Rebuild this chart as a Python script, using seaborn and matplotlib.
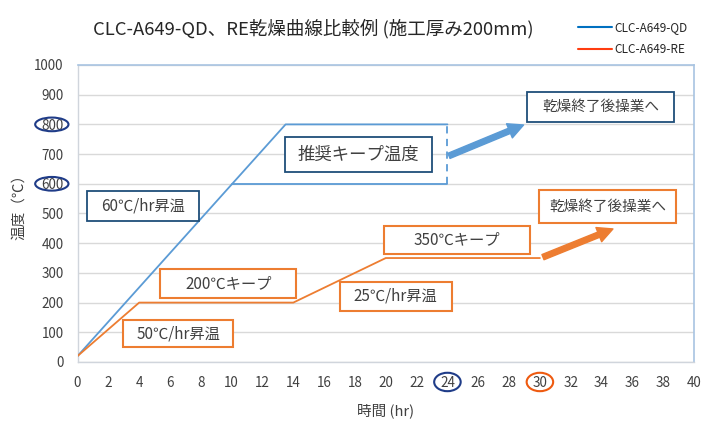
import numpy as np
import pandas as pd
import seaborn as sns
import matplotlib
matplotlib.use('Agg')
import matplotlib.pyplot as plt
from matplotlib.patches import Rectangle, Ellipse, FancyArrowPatch
from matplotlib.lines import Line2D

# ---------------- data ----------------
series_names = ['CLC-A649-QD', 'CLC-A649-RE']
qd_hours = [0, 13.5, 24]
qd_temps = [20, 800, 800]
re_hours = [0, 4, 14, 20, 30]
re_temps = [20, 200, 200, 350, 350]
keep600_hours = [10, 24]
keep600_temps = [600, 600]
keep_dash_hours = [24, 24]
keep_dash_temps = [600, 800]
x_ticks = list(range(0, 41, 2))
y_ticks = list(range(0, 1001, 100))
title = 'CLC-A649-QD、RE乾燥曲線比較例 (施工厚み200mm)'
x_label = '時間 (hr)'
y_label = '温度（℃）'
circled_y = [800, 600]
circled_x = [24, 30]
navy_notes = ['60℃/hr昇温', '推奨キープ温度', '乾燥終了後操業へ']
orange_notes = ['乾燥終了後操業へ', '350℃キープ', '25℃/hr昇温', '200℃キープ', '50℃/hr昇温']

# ---------------- style ----------------
sns.set_theme(style='white')
plt.rcParams['font.family'] = ['Noto Sans CJK JP', 'DejaVu Sans']

BLUE = '#5B9BD5'
ORANGE = '#ED7D31'
NAVY = '#1F4E79'
CIRCLE_NAVY = '#1F3C88'
CIRCLE_ORANGE = '#EE5A10'
TXT = '#404040'

fig = plt.figure(figsize=(7.1, 4.4), dpi=100)
ax = fig.add_axes([0.1092, 0.1773, 0.9775 - 0.1092, 0.8523 - 0.1773])

df = pd.DataFrame({
    'hours': qd_hours + re_hours,
    'temp': qd_temps + re_temps,
    'series': [series_names[0]] * len(qd_hours) + [series_names[1]] * len(re_hours),
})
sns.lineplot(data=df, x='hours', y='temp', hue='series',
             palette={series_names[0]: BLUE, series_names[1]: ORANGE},
             estimator=None, sort=False, linewidth=1.3, ax=ax, legend=False, zorder=3)
ax.plot(keep600_hours, keep600_temps, color=BLUE, lw=1.3, zorder=3)
ax.plot(keep_dash_hours, keep_dash_temps, color=BLUE, lw=1.3, ls=(0, (4, 3)), zorder=3)

ax.set_xlim(0, 40)
ax.set_ylim(0, 1000)
ax.set_xticks(x_ticks)
ax.set_yticks(y_ticks)
ax.set_xticklabels([str(t) for t in x_ticks])
ax.set_yticklabels([str(t) for t in y_ticks])
ax.tick_params(length=0, pad=10, labelsize=9.7, colors=TXT)
ax.yaxis.grid(True, color='#D9D9D9', lw=1, zorder=0)
ax.xaxis.grid(False)
ax.set_axisbelow(True)
for side in ['left', 'bottom']:
    ax.spines[side].set_color('#D0D5DC')
    ax.spines[side].set_linewidth(1)
for side in ['top', 'right']:
    ax.spines[side].set_color('#A8C4E2')
    ax.spines[side].set_linewidth(1.2)

ax.set_xlabel(x_label, fontsize=10.5, color=TXT)
ax.xaxis.set_label_coords(0.5, -0.14)
ax.set_ylabel(y_label, fontsize=10.5, color=TXT)
ax.yaxis.set_label_coords(-0.083, 0.535)

fig.suptitle(title, x=0.4415, y=0.934, va='center', fontsize=13.3, color='#262626')

# legend
handles = [Line2D([], [], color='#0070C0', lw=1.5), Line2D([], [], color='#FF3D10', lw=1.5)]
fig.legend(handles, series_names, loc='upper left', bbox_to_anchor=(578 / 710, 1 - 21 / 440),
           frameon=False, fontsize=8.5, handlelength=2.9, handletextpad=0.15,
           labelspacing=0.8, borderpad=0, borderaxespad=0, labelcolor='#262626')

# circled tick labels
ytr = ax.get_yaxis_transform()
for v in circled_y:
    ax.add_patch(Ellipse((-0.0417, v), 0.054, 46, transform=ytr, fill=False,
                         edgecolor=CIRCLE_NAVY, lw=1.5, clip_on=False))
xtr = ax.get_xaxis_transform()
for t, c in zip(circled_x, [CIRCLE_NAVY, CIRCLE_ORANGE]):
    ax.add_patch(Ellipse((t, -0.0673), 1.72, 0.062, transform=xtr, fill=False,
                         edgecolor=c, lw=1.5, clip_on=False))

# annotation boxes (x0, y0, w, h, fontsize)
navy_boxes = [(0.6, 475, 7.3, 101, 11), (13.45, 640, 9.55, 118, 12.5), (29.15, 808, 9.55, 101, 10.5)]
orange_boxes = [(29.95, 468, 8.9, 111, 10.5), (19.9, 364, 9.45, 94, 11), (17.0, 172, 7.3, 97, 11),
                (5.35, 215, 8.85, 98, 11), (2.95, 50, 7.15, 91, 11)]

def box(text, geom, color, lw):
    x0, y0, w, h, fs = geom
    ax.add_patch(Rectangle((x0, y0), w, h, facecolor='white', edgecolor=color, lw=lw, zorder=4))
    ax.text(x0 + w / 2, y0 + h / 2, text, ha='center', va='center', fontsize=fs, color=TXT, zorder=5)

for t, g in zip(navy_notes, navy_boxes):
    box(t, g, NAVY, 1.3)
for t, g in zip(orange_notes, orange_boxes):
    box(t, g, ORANGE, 1.5)

# arrows
for (a, b, c) in [((24.1, 694), (28.94, 798), BLUE), ((30.2, 353), (34.74, 448), ORANGE)]:
    ax.add_patch(FancyArrowPatch(a, b, arrowstyle='simple,head_length=1.1,head_width=1.1,tail_width=0.4',
                                 mutation_scale=10, color=c, shrinkA=0, shrinkB=0, zorder=5))

fig.savefig('out.png', dpi=100)
